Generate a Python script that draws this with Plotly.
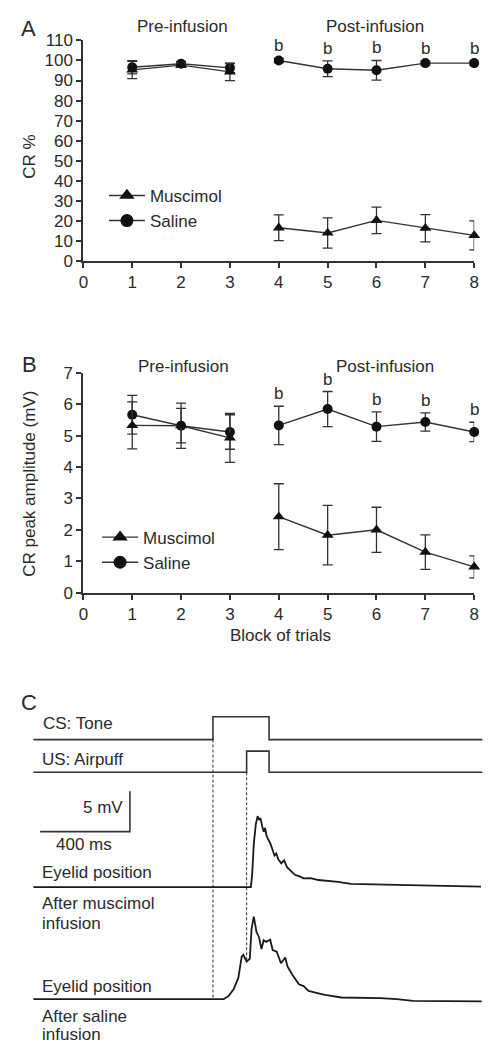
import plotly.graph_objects as go
import numpy as np

W, H = 489, 1053

# ---- Panel A / B data: block means and SEM ----
blocks = [1, 2, 3, 4, 5, 6, 7, 8]
pre_n = 3  # blocks 1-3 pre-infusion, 4-8 post-infusion

cr_saline = [96.6, 98.4, 96.3, 100.0, 95.9, 95.1, 98.7, 98.7]
cr_saline_err = [3.3, 1.0, 2.4, 1.0, 3.9, 4.9, 1.0, 1.0]
cr_musc = [95.3, 97.7, 94.3, 16.6, 14.0, 20.3, 16.4, 12.8]
cr_musc_err = [4.3, 1.0, 4.3, 6.4, 7.5, 6.6, 6.8, 7.2]

amp_saline = [5.67, 5.32, 5.12, 5.33, 5.85, 5.29, 5.44, 5.12]
amp_saline_err = [0.62, 0.55, 0.55, 0.61, 0.56, 0.47, 0.29, 0.31]
amp_musc = [5.33, 5.32, 4.93, 2.42, 1.83, 2.00, 1.29, 0.82]
amp_musc_err = [0.75, 0.72, 0.78, 1.05, 0.95, 0.72, 0.55, 0.35]

sig_label = "b"

# ---- Panel C data: stimulus timing (ms) and eyelid traces (ms, mV) ----
CS_ON, CS_OFF = 0, 250
US_ON, US_OFF = 150, 250
T_START, T_END = -800, 1200

musc_t = [-800, -55, 169, 175, 182, 191, 199, 206, 212, 219, 226, 232, 239, 247, 256,
          265, 274, 282, 291, 304, 317, 330, 348, 365, 383, 404, 435, 470, 557, 614,
          819, 1037, 1194]
musc_v = [0.0, 0.0, 0.0, 1.74, 5.4, 7.84, 8.82, 8.33, 8.57, 7.6, 6.87, 7.35, 6.38, 5.89, 5.4,
          4.67, 3.94, 4.18, 3.45, 2.96, 3.33, 2.48, 1.99, 1.54, 1.38, 1.10, 1.13, 0.89, 0.65, 0.40,
          0.28, 0.16, 0.07]

sal_t = [-800, -270, -55, 48, 70, 92, 113, 128, 135, 150, 164, 172, 182, 194, 205, 216,
         226, 237, 255, 266, 284, 303, 322, 332, 353, 383, 404, 426, 456, 499, 572, 630,
         746, 819, 892, 1197]
sal_v = [0.0, 0.05, 0.0, 0.0, 0.40, 1.22, 2.63, 5.28, 5.49, 4.67, 5.0, 8.73, 10.24, 8.33, 7.72, 6.22,
         7.32, 7.11, 7.39, 6.10, 5.89, 4.46, 5.16, 4.06, 3.05, 1.83, 1.62, 1.01, 0.80, 0.52, 0.20, 0.20,
         0.12, 0.0, -0.21, -0.29]

SCALE_MS, SCALE_MV = 400, 5

# ---- styling ----
FONT = "Liberation Sans"
TXT = "#2b2b2b"
INK = "#333333"
FS = 17


def px(x):
    return x / W


def py(y):
    return 1 - y / H


fig = go.Figure()


def add_series(xa, ya, means, errs, symbol, size):
    for sl in (slice(0, pre_n), slice(pre_n, None)):
        fig.add_trace(go.Scatter(
            x=blocks[sl], y=means[sl], xaxis=xa, yaxis=ya,
            mode="lines+markers", showlegend=False, cliponaxis=False,
            line=dict(color=INK, width=1.4),
            marker=dict(symbol=symbol, size=size, color="#111111"),
            error_y=dict(type="data", array=errs[sl], color=INK, thickness=1.3, width=5),
        ))


def add_legend(legend_id, xa, ya):
    fig.add_trace(go.Scatter(x=[None], y=[None], xaxis=xa, yaxis=ya, name="Muscimol",
                             mode="lines+markers", legend=legend_id,
                             line=dict(color=INK, width=1.4),
                             marker=dict(symbol="triangle-up", size=13.5, color="#111111")))
    fig.add_trace(go.Scatter(x=[None], y=[None], xaxis=xa, yaxis=ya, name="Saline",
                             mode="lines+markers", legend=legend_id,
                             line=dict(color=INK, width=1.4),
                             marker=dict(symbol="circle", size=13, color="#111111")))


# Panel A
add_series("x", "y", cr_saline, cr_saline_err, "circle", 10)
add_series("x", "y", cr_musc, cr_musc_err, "triangle-up", 10.5)
add_legend("legend", "x", "y")
# Panel B
add_series("x2", "y2", amp_saline, amp_saline_err, "circle", 10)
add_series("x2", "y2", amp_musc, amp_musc_err, "triangle-up", 10.5)
add_legend("legend2", "x2", "y2")

# ---- Panel C: stacked rows (offsets in mV units of the trace axis) ----
ROW_SAL, ROW_MUS, ROW_US, ROW_CS = 0.0, 13.90, 28.17, 32.23
PULSE_CS, PULSE_US = 2.84, 2.63
C_LINE = dict(color=INK, width=1.6)


def step(row, on, off, h):
    return ([T_START, on, on, off, off, T_END], [row, row, row + h, row + h, row, row])


for row, on, off, h in ((ROW_CS, CS_ON, CS_OFF, PULSE_CS), (ROW_US, US_ON, US_OFF, PULSE_US)):
    sx, sy = step(row, on, off, h)
    fig.add_trace(go.Scatter(x=sx, y=sy, xaxis="x3", yaxis="y3", mode="lines",
                             line=C_LINE, showlegend=False))

# onset markers
us_level = float(np.interp(US_ON, sal_t, sal_v))
fig.add_trace(go.Scatter(x=[CS_ON, CS_ON], y=[ROW_CS, ROW_SAL], xaxis="x3", yaxis="y3",
                         mode="lines", line=dict(color=INK, width=1, dash="3px,2px"),
                         showlegend=False))
fig.add_trace(go.Scatter(x=[US_ON, US_ON], y=[ROW_US, ROW_SAL + us_level], xaxis="x3", yaxis="y3",
                         mode="lines", line=dict(color=INK, width=1, dash="3px,2px"),
                         showlegend=False))

# eyelid traces
fig.add_trace(go.Scatter(x=musc_t, y=[ROW_MUS + v for v in musc_v], xaxis="x3", yaxis="y3",
                         mode="lines", line=dict(color="#1a1a1a", width=1.8), showlegend=False))
fig.add_trace(go.Scatter(x=sal_t, y=[ROW_SAL + v for v in sal_v], xaxis="x3", yaxis="y3",
                         mode="lines", line=dict(color="#1a1a1a", width=1.8), showlegend=False))

# scale bar
SB_X, SB_Y = -770, 20.8
fig.add_trace(go.Scatter(x=[SB_X, SB_X + SCALE_MS, SB_X + SCALE_MS],
                         y=[SB_Y, SB_Y, SB_Y + SCALE_MV], xaxis="x3", yaxis="y3",
                         mode="lines", line=C_LINE, showlegend=False))

# ---- axes ----
axis_style = dict(showline=True, linecolor=INK, linewidth=2, ticks="outside", ticklen=5,
                  tickwidth=1.5, tickcolor=INK, showgrid=False, zeroline=False,
                  tickfont=dict(family=FONT, size=FS, color=TXT))
XDOM = [px(80), px(479)]

# trace axis for panel C: 4.364 ms/px horizontally, 8.2 px/mV vertically
C_TOP = 690
C_BASE = 1008.3
c_xrange = [(0 - 212.3) * 4.364, (W - 212.3) * 4.364]
c_yrange = [(C_BASE - H) / 8.2, (C_BASE - C_TOP) / 8.2]

fig.update_layout(
    width=W, height=H, margin=dict(l=0, r=0, t=0, b=0),
    paper_bgcolor="white", plot_bgcolor="white",
    font=dict(family=FONT, size=FS, color=TXT),
    xaxis=dict(domain=XDOM, range=[0, 8], dtick=1, anchor="y", **axis_style),
    yaxis=dict(domain=[py(256.7), py(32)], range=[0, 110], dtick=10, anchor="x", **axis_style),
    xaxis2=dict(domain=XDOM, range=[0, 8], dtick=1, anchor="y2", **axis_style),
    yaxis2=dict(domain=[py(594.3), py(370.7)], range=[0, 7], dtick=1, anchor="x2", **axis_style),
    xaxis3=dict(domain=[0, 1], range=c_xrange, visible=False, anchor="y3"),
    yaxis3=dict(domain=[0, py(C_TOP)], range=c_yrange, visible=False, anchor="x3"),
    legend=dict(x=px(101), y=py(172), xanchor="left", yanchor="top", bgcolor="rgba(0,0,0,0)",
                font=dict(family=FONT, size=FS, color=TXT), itemwidth=36, tracegroupgap=0),
    legend2=dict(x=px(94), y=py(520), xanchor="left", yanchor="top", bgcolor="rgba(0,0,0,0)",
                 font=dict(family=FONT, size=FS, color=TXT), itemwidth=36, tracegroupgap=0),
)

ann = []


def text(s, x, y, xanchor="center", size=FS, angle=0):
    ann.append(dict(text=s, x=px(x), y=py(y), xref="paper", yref="paper", showarrow=False,
                    xanchor=xanchor, yanchor="middle", textangle=angle,
                    font=dict(family=FONT, size=size, color=TXT)))


# panel letters and headings
text("A", 24.5, 20, size=22)
text("B", 25.5, 362, size=22)
text("C", 24.5, 706, size=22)
text("Pre-infusion", 181.7, 18.3)
text("Post-infusion", 377.7, 18.3)
text("Pre-infusion", 182.7, 364)
text("Post-infusion", 388, 364)
text("CR %", 25, 150, angle=-90)
text("CR peak amplitude (mV)", 25, 483, angle=-90)
text("Block of trials", 281.2, 638.3)

# significance marks above post-infusion saline points
for xa, ya, means, errs in (("x", "y", cr_saline, cr_saline_err), ("x2", "y2", amp_saline, amp_saline_err)):
    for b, m, e in zip(blocks[pre_n:], means[pre_n:], errs[pre_n:]):
        ann.append(dict(text=sig_label, x=b, y=m + e, xref=xa, yref=ya, showarrow=False,
                        yanchor="bottom", yshift=1, font=dict(family=FONT, size=FS, color=TXT)))

# panel C labels
text("CS: Tone", 36.7, 727.7, xanchor="left")
text("US: Airpuff", 36, 764, xanchor="left")
text("5 mV", 122, 813.3, xanchor="right")
text("400 ms", 80.8, 851)
text("Eyelid position", 36, 879, xanchor="left")
text("After muscimol", 36, 911, xanchor="left")
text("infusion", 36, 931, xanchor="left")
text("Eyelid position", 36, 995.7, xanchor="left")
text("After saline", 36, 1025.7, xanchor="left")
text("infusion", 36, 1044, xanchor="left")

fig.update_layout(annotations=ann)
fig.write_html("out.html")
